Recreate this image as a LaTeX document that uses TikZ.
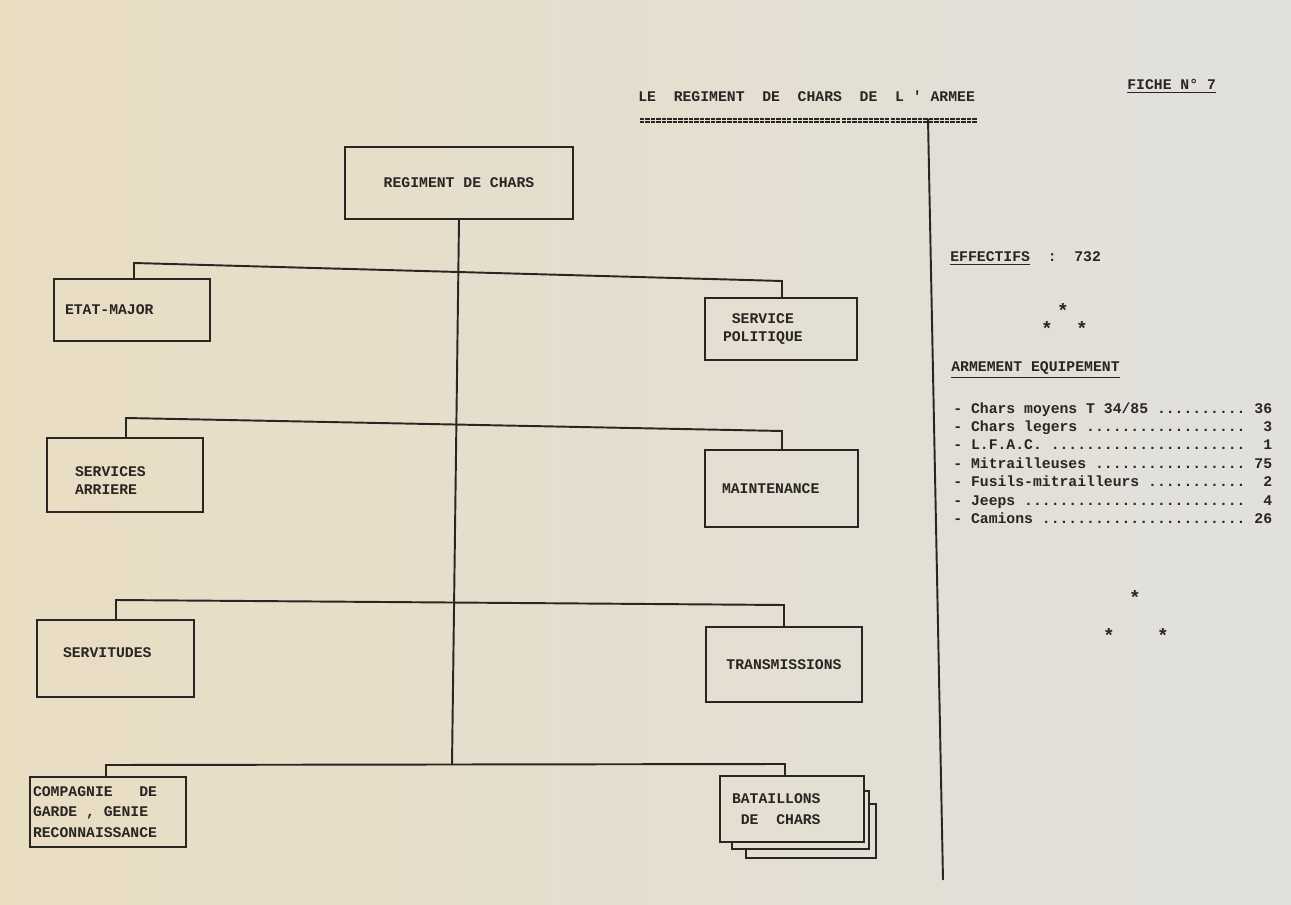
\documentclass[tikz,border=0pt]{standalone}
\usepackage{fontspec}
\setmonofont{Liberation Mono}
\usetikzlibrary{positioning, calc}

\definecolor{paperwarm}{RGB}{233,221,194}
\definecolor{papercool}{RGB}{225,224,221}
\definecolor{ink}{RGB}{40,37,35}

\newcommand{\typew}{\ttfamily\bfseries\fontsize{8.4}{10.5}\selectfont}
\newcommand{\gap}[1]{\hphantom{#1}}
\frenchspacing
\setlength{\parindent}{0pt}

\tikzset{
  unitbox/.style={draw=ink, line width=1.1pt, inner ysep=0pt, font=\typew, text=ink},
  wire/.style={draw=ink, line width=1.1pt},
  typed/.style={font=\typew, text=ink, inner sep=0pt},
  starmark/.style={font=\ttfamily\bfseries\fontsize{11}{11}\selectfont, text=ink, inner sep=0pt, anchor=base}
}

\begin{document}
\begin{tikzpicture}[x=0.02cm, y=-0.02cm]
  \shade[left color=paperwarm, right color=papercool] (0,0) rectangle (1291,905);
  \useasboundingbox (0,0) rectangle (1291,905);

  % header
  \node[typed, anchor=base west] (title) at (638,101.5) {LE~~REGIMENT~~DE~~CHARS~~DE~~L~'~ARMEE};
  \node[typed, anchor=base west] (fiche) at (1127,90) {\underline{FICHE N° 7}};
  \draw[ink, line width=0.6pt, dash pattern=on 2.5pt off 0.6pt] ($(title.south west)+(2,17)$) -- ($(title.south east)+(2,17)$);
  \draw[ink, line width=0.6pt, dash pattern=on 2.5pt off 0.6pt] ($(title.south west)+(2,20)$) -- ($(title.south east)+(2,20)$);
  \coordinate (divtop) at (928,119);
  \coordinate (divbot) at (943,880);
  \draw[wire] (divtop) -- (divbot); % column divider

  % chart boxes
  \node[unitbox, minimum width=4.56cm, minimum height=1.44cm] (regiment) at (459,183) {REGIMENT DE CHARS};
  \node[unitbox, minimum width=3.12cm, minimum height=1.24cm, inner xsep=0.22cm, text width=2.68cm, align=left] (etatmajor) at (132,310) {ETAT-MAJOR};
  \node[unitbox, minimum width=3.04cm, minimum height=1.24cm, inner xsep=0.36cm, text width=2.32cm, align=left] (politique) at (781,329) {\leavevmode\gap{P}SERVICE\\POLITIQUE};
  \node[unitbox, minimum width=3.12cm, minimum height=1.48cm, inner xsep=0.56cm, text width=2.00cm, align=left, text depth=0.14cm] (arriere) at (125,475) {SERVICES\\ARRIERE};
  \node[unitbox, minimum width=3.06cm, minimum height=1.54cm, inner xsep=0.34cm, text width=2.38cm, align=left] (maintenance) at (781.5,488.5) {MAINTENANCE};
  \node[unitbox, minimum width=3.14cm, minimum height=1.54cm, inner xsep=0.52cm, text width=2.10cm, align=left, text depth=0.22cm] (servitudes) at (115.5,658.5) {SERVITUDES};
  \node[unitbox, minimum width=3.12cm, minimum height=1.50cm] (transmissions) at (784,664.5) {TRANSMISSIONS};
  \node[unitbox, minimum width=3.12cm, minimum height=1.40cm, inner xsep=0.06cm, text width=3.00cm, align=left] (compagnie) at (108,812) {COMPAGNIE\gap{XXX}DE\\[1pt]GARDE\gap{X},\gap{X}GENIE\\[1pt]RECONNAISSANCE};
  \node[unitbox, minimum width=2.88cm, minimum height=1.32cm, inner xsep=0.24cm, text width=2.40cm, align=left] (bataillons) at (792,809) {BATAILLONS\\[1.5pt]\leavevmode\gap{B}DE\gap{XX}CHARS};
  \draw[wire] ($(bataillons.south west)+(13,0)$) -- ++(0,6) -| ($(bataillons.north east)+(4,16)$) -- ++(-4,0); % stacked sheets
  \draw[wire] ($(bataillons.south west)+(27,6)$) -- ++(0,9) -| ($(bataillons.north east)+(11,29)$) -- ++(-7,0);

  % connectors
  \coordinate (trunkend) at (452,765);
  \draw[wire] (regiment.south) -- (trunkend);
  \coordinate (bar1l) at (134,263);
  \coordinate (bar1r) at (782,281);
  \coordinate (bar2l) at (126,418);
  \coordinate (bar2r) at (782,431);
  \coordinate (bar3l) at (116,600);
  \coordinate (bar3r) at (784,605);
  \coordinate (bar4l) at (106,765);
  \coordinate (bar4r) at (785,764);
  \draw[wire] (etatmajor.north -| bar1l) -- (bar1l) -- (bar1r) -- (politique.north -| bar1r);
  \draw[wire] (arriere.north -| bar2l) -- (bar2l) -- (bar2r) -- (maintenance.north -| bar2r);
  \draw[wire] (servitudes.north -| bar3l) -- (bar3l) -- (bar3r) -- (transmissions.north -| bar3r);
  \draw[wire] (compagnie.north -| bar4l) -- (bar4l) -- (bar4r) -- (bataillons.north -| bar4r);

  % right column
  \node[typed, anchor=base west] (effectifs) at (950,261.5) {\underline{EFFECTIFS}~~:~~732};
  \node[starmark] (stara) at (1063,318) {*};
  \node[starmark] (starb) at (1047,336) {*};
  \node[starmark] (starc) at (1082,336) {*};
  \node[typed, anchor=base west] (armement) at (951,371.5) {\underline{ARMEMENT EQUIPEMENT}};
  \node[typed, anchor=north west, align=left] (inventaire) at (953,402) {- Chars moyens T 34/85 ..........~36\\- Chars legers ..................~~3\\- L.F.A.C. ......................~~1\\- Mitrailleuses .................~75\\- Fusils-mitrailleurs ...........~~2\\- Jeeps .........................~~4\\- Camions .......................~26};
  \node[starmark] (stard) at (1135,604) {*};
  \node[starmark] (stare) at (1109,642) {*};
  \node[starmark] (starf) at (1163,642) {*};
\end{tikzpicture}
\end{document}
